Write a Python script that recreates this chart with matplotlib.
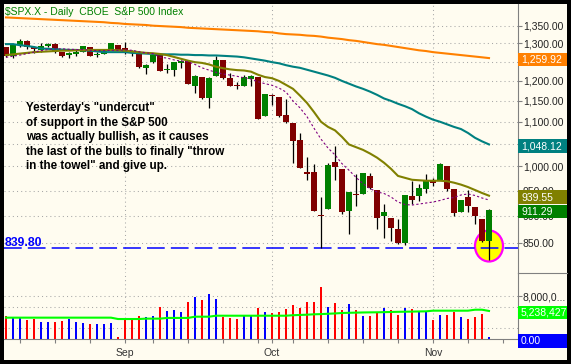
import numpy as np
import pandas as pd
import matplotlib
matplotlib.use('Agg')
import matplotlib.pyplot as plt
from matplotlib.patches import Rectangle, Ellipse
from matplotlib.transforms import IdentityTransform
from matplotlib.ticker import NullLocator

plt.rcParams['font.family'] = ['Liberation Sans', 'DejaVu Sans']

# S&P 500 daily, 7 Aug 2008 - 13 Nov 2008
opens = [1289.19, 1266.29, 1296.32, 1305.32, 1288.64, 1282.11, 1293.85, 1298.14, 1276.65, 1267.34,
         1271.07, 1277.59, 1290.47, 1267.03, 1271.29, 1283.79, 1296.49, 1287.83, 1276.61, 1271.80,
         1233.21, 1249.50, 1267.98, 1227.50, 1229.04, 1245.88, 1250.92, 1188.31, 1210.34, 1157.08,
         1213.11, 1255.37, 1207.61, 1188.79, 1188.23, 1204.47, 1209.07, 1113.78, 1164.17, 1160.64,
         1115.16, 1097.56, 1057.60, 988.91, 988.42, 902.31, 912.75, 1009.97, 994.60, 909.53,
         942.29, 943.51, 980.40, 951.67, 899.08, 895.22, 874.28, 848.92, 939.51, 939.38,
         953.11, 968.67, 971.31, 1001.84, 952.40, 907.44, 936.75, 917.15, 893.39, 853.13]
highs = [1289.19, 1297.85, 1313.15, 1308.79, 1294.03, 1300.11, 1302.05, 1300.22, 1276.65, 1276.01,
         1281.40, 1293.09, 1290.47, 1275.65, 1285.05, 1300.68, 1296.49, 1303.04, 1280.60, 1271.80,
         1244.94, 1274.42, 1268.66, 1243.90, 1249.98, 1255.09, 1250.92, 1214.84, 1210.34, 1211.14,
         1265.12, 1255.37, 1221.15, 1197.41, 1214.24, 1215.77, 1209.07, 1168.03, 1167.03, 1160.64,
         1153.82, 1097.56, 1072.91, 1021.06, 1005.25, 936.36, 1006.93, 1044.31, 994.60, 947.71,
         984.64, 985.40, 985.44, 951.67, 922.83, 896.30, 893.78, 940.51, 969.97, 963.23,
         984.38, 975.57, 1007.51, 1001.84, 952.40, 931.46, 951.95, 917.15, 893.39, 913.01]
lows = [1263.99, 1261.11, 1291.41, 1284.85, 1274.86, 1276.84, 1290.74, 1274.51, 1263.11, 1261.16,
        1265.22, 1277.59, 1264.87, 1263.21, 1270.03, 1283.79, 1282.74, 1272.20, 1265.59, 1232.83,
        1217.23, 1247.12, 1224.51, 1221.60, 1211.54, 1233.81, 1192.70, 1169.28, 1155.88, 1133.50,
        1213.11, 1205.61, 1187.06, 1179.79, 1188.23, 1187.54, 1106.39, 1113.78, 1140.77, 1111.43,
        1098.14, 1007.97, 996.23, 970.97, 909.19, 839.80, 912.75, 972.07, 903.99, 865.83,
        918.74, 943.51, 952.47, 875.81, 858.44, 852.85, 846.75, 845.27, 922.26, 928.50,
        944.59, 958.82, 971.31, 949.86, 899.73, 907.44, 907.47, 884.90, 850.48, 818.69]
closes = [1266.07, 1296.32, 1305.32, 1289.59, 1285.83, 1292.93, 1298.20, 1278.60, 1266.69, 1274.54,
          1277.72, 1292.20, 1266.84, 1271.51, 1281.66, 1300.68, 1282.83, 1277.58, 1274.98, 1236.83,
          1242.31, 1267.79, 1224.51, 1232.04, 1249.05, 1251.70, 1192.70, 1213.60, 1156.39, 1206.51,
          1255.08, 1207.09, 1188.22, 1185.87, 1209.18, 1213.27, 1106.39, 1166.36, 1161.06, 1114.28,
          1099.23, 1056.89, 996.23, 984.94, 909.92, 899.22, 1003.35, 998.01, 907.84, 946.43,
          940.55, 985.40, 955.05, 896.78, 908.11, 876.77, 848.92, 940.51, 930.09, 954.09,
          968.75, 966.30, 1005.75, 952.77, 904.88, 930.99, 919.21, 898.95, 852.30, 911.29]

# moving averages as drawn on the chart
ma_orange = [1374, 1373, 1372, 1371, 1370, 1369, 1368, 1367, 1366, 1365,
             1364, 1363, 1362, 1361, 1360, 1358, 1357, 1355, 1354, 1353,
             1352, 1350, 1349, 1348, 1347, 1346, 1344, 1343, 1342, 1341,
             1340, 1339, 1338, 1337, 1336, 1335, 1334, 1332, 1331, 1328,
             1326, 1325, 1324, 1322, 1321, 1319, 1316, 1314, 1312, 1309,
             1307, 1304, 1301, 1298, 1296, 1293, 1290, 1287, 1284, 1281,
             1279, 1276, 1274, 1272, 1270, 1268, 1266, 1264, 1262, 1259.92]
ma_teal = [1298, 1298, 1295, 1293, 1290, 1286, 1285, 1284, 1283, 1282,
           1282, 1281, 1280, 1278, 1276, 1276, 1276, 1276, 1274, 1273,
           1272, 1271, 1270, 1270, 1270, 1269, 1269, 1268, 1268, 1267,
           1267, 1266, 1265, 1264, 1262, 1259, 1256, 1253, 1249, 1246,
           1241, 1237, 1234, 1229, 1224, 1219, 1214, 1208, 1200, 1193,
           1186, 1180, 1173, 1165, 1156, 1150, 1143, 1137, 1130, 1120,
           1112, 1105, 1100, 1094, 1088, 1083, 1074, 1063, 1055, 1048.12]
ma_olive = [1268, 1270, 1272, 1274, 1276, 1277, 1278, 1279, 1280, 1280,
            1281, 1281, 1282, 1282, 1282, 1282, 1281, 1280, 1278, 1276,
            1274, 1273, 1271, 1268, 1263, 1258, 1253, 1249, 1247, 1243,
            1237, 1233, 1230, 1228, 1227, 1224, 1216, 1210, 1207, 1200,
            1190, 1180, 1163, 1145, 1123, 1100, 1088, 1080, 1065, 1048,
            1042, 1036, 1028, 1019, 1008, 995, 980, 976, 972, 971,
            970, 970, 970, 969, 966, 962, 957, 951, 945, 939.55]
ma_purple = [1262, 1265, 1268, 1272, 1276, 1280, 1283, 1285, 1285, 1284,
             1283, 1283, 1281, 1280, 1280, 1281, 1281, 1282, 1281, 1277,
             1274, 1272, 1262, 1260, 1255, 1252, 1250, 1243, 1234, 1228,
             1222, 1218, 1215, 1212, 1208, 1205, 1198, 1193, 1189, 1182,
             1172, 1150, 1133, 1112, 1085, 1060, 1040, 1025, 1006, 992,
             977, 964, 954, 947, 944, 937, 927, 922, 921, 923,
             925, 927, 930, 934, 936, 941, 943, 940, 935, 931]

# volume in millions, R = down day, B = up day
volume = [4.3, 4.0, 4.0, 3.57, 3.75, 3.2, 3.2, 3.2, 3.38, 3.75,
          3.2, 3.0, 2.83, 2.83, 2.83, 3.0, 0.43, 3.94, 3.94, 4.3,
          4.12, 4.3, 5.97, 5.23, 5.41, 5.05, 6.9, 7.82, 7.27, 8.37,
          7.45, 4.06, 3.94, 3.75, 4.3, 4.3, 5.79, 5.05, 4.86, 5.05,
          5.6, 6.34, 5.79, 6.9, 6.9, 9.72, 5.97, 6.71, 5.41, 6.53,
          5.41, 4.3, 4.3, 5.1, 5.79, 5.41, 4.49, 5.79, 5.6, 5.1,
          5.1, 3.57, 4.49, 4.49, 5.05, 4.12, 3.75, 4.12, 4.68, 0.37]
vol_dir = "RBBRRBBRRBBBRBBBRRRRBBRBBBRBRBBRRRBBRBRRRRRRRRBRRBRBRRBRRBRBBRBRRBRRRB"
vol_ma = [4.0, 4.0, 4.0, 4.0, 4.0, 4.0, 4.0, 4.0, 4.0, 4.0,
          4.0, 4.0, 4.0, 4.0, 4.0, 4.0, 3.75, 3.75, 3.75, 3.75,
          3.82, 3.82, 3.82, 3.95, 3.95, 3.95, 3.95, 4.18, 4.18, 4.18,
          4.36, 4.36, 4.36, 4.36, 4.36, 4.36, 4.36, 4.36, 4.36, 4.36,
          4.36, 4.45, 4.5, 4.55, 4.62, 4.66, 4.72, 4.78, 4.86, 4.9,
          4.93, 4.96, 4.98, 4.99, 5.02, 5.05, 5.08, 5.1, 5.12, 5.15,
          5.17, 5.29, 5.29, 5.29, 5.29, 5.29, 5.29, 5.47, 5.47, 5.24]

price_grid = [850, 900, 950, 1000, 1050, 1100, 1150, 1200, 1250, 1300, 1350]
price_labels = [850, 900, 950, 1000, 1100, 1150, 1200, 1300, 1350]   # the others sit under value boxes
support = 839.80
circle_price = 844

title = '$SPX.X - Daily  CBOE  S&P 500 Index'
note_lines = ['Yesterday\'s "undercut"',
              'of support in the S&P 500',
              'was actually bullish, as it causes',
              'the last of the bulls to finally "throw',
              'in the towel" and give up.']

CREAM = '#FFFCF0'
GRID = '#A8A8A8'
AXC = '#808080'

days = pd.bdate_range('2008-08-07', '2008-11-19')
days = days[days != pd.Timestamp('2008-09-01')]
x = np.arange(len(closes))

W, H = 571, 364
fig = plt.figure(figsize=(W / 100, H / 100), dpi=100, facecolor='black')


def px_box(l, t, r, b):
    return [l / W, 1 - b / H, (r - l) / W, (b - t) / H]


fig.add_artist(Rectangle((4 / W, 4 / H), 563 / W, 356 / H, transform=fig.transFigure,
                         facecolor=CREAM, edgecolor='none', zorder=-1))

ax = fig.add_axes(px_box(4, 4, 517.7, 273))
vax = fig.add_axes(px_box(4, 273, 517.7, 339.3))
for a in (ax, vax):
    a.patch.set_visible(False)
    for s in a.spines.values():
        s.set_visible(False)
    a.set_xlim((4 - 6) / 7, (517.7 - 6) / 7)

# price panel
ax.set_yscale('log')
ax.set_ylim(796.8, 1413.9)
ax.yaxis.set_minor_locator(NullLocator())
ax.yaxis.tick_right()
ax.set_yticks(price_labels)
ax.set_yticklabels([f'{v:,.2f}' for v in price_labels])
ax.tick_params(axis='y', length=3, width=0.8, color=AXC, pad=0.8, labelsize=7.5, labelcolor='#222222')
ax.set_xticks([])
ax.spines['right'].set_visible(True)
ax.spines['right'].set_color(AXC)

for v in price_grid:
    ax.axhline(v, color=GRID, lw=0.75, ls=(0, (1, 3)), zorder=1)

month_idx = [i for i in range(1, len(days)) if days[i].month != days[i - 1].month]
week_idx = [i for i in range(1, len(days)) if days[i].weekday() < days[i - 1].weekday()]
for i in month_idx:
    ax.axvline(i, color=GRID, lw=0.75, ls=(0, (1, 3)), zorder=1)
    vax.axvline(i, color=GRID, lw=0.75, ls=(0, (1, 3)), zorder=1)

# circle around the last low
cx, cy = ax.transData.transform((x[-1], circle_price))
ax.add_patch(Ellipse((cx, cy), 28, 31, transform=IdentityTransform(),
                     facecolor='#FFFF00', edgecolor='#FF00FF', lw=1.6, zorder=2.5))

ax.axhline(support, color='#0000FF', lw=1.1, ls=(0, (11.6, 4.0)), zorder=2.7)

o = np.array(opens)
c = np.array(closes)
ax.vlines(x, lows, highs, color='black', lw=0.9, zorder=3)
body_lo = np.minimum(o, c)
body_h = np.maximum(np.abs(c - o), body_lo * 0.0025)
body_col = ['#008000' if cc > oo else '#800000' for oo, cc in zip(o, c)]
ax.bar(x, body_h, bottom=body_lo, width=0.8, color=body_col, lw=0, zorder=3.5)

ax.plot(x, ma_orange, color='#FF8000', lw=1.5, zorder=4)
ax.plot(x, ma_teal, color='#008080', lw=1.5, zorder=4)
ax.plot(x, ma_olive, color='#808000', lw=1.5, zorder=4)
ax.plot(x, ma_purple, color='#800080', lw=0.8, ls=(0, (2, 2)), zorder=4)

# volume panel
vax.set_ylim(0, (339.3 - 273) / 5.41)
for v in [2, 6, 8]:
    vax.axhline(v, color=GRID, lw=0.75, ls=(0, (1, 3)), zorder=1)
vcol = ['#FF0000' if d == 'R' else '#0000FF' for d in vol_dir]
vax.bar(x, volume, width=0.4, color=vcol, lw=0, zorder=3)
vax.plot(x, vol_ma, color='#00FF00', lw=1.5, zorder=4)
vax.yaxis.tick_right()
vax.set_yticks([8])
vax.set_yticklabels(['8,000,0...'])
vax.tick_params(axis='y', length=3, width=0.8, color=AXC, pad=0.8, labelsize=7.5, labelcolor='#222222')
vax.set_xticks(month_idx)
vax.set_xticklabels([days[i].strftime('%b') for i in month_idx])
vax.set_xticks(week_idx, minor=True)
vax.tick_params(axis='x', which='both', length=3, width=0.8, color=AXC, pad=3,
                labelsize=7.5, labelcolor='#333333')
for s in ('right', 'bottom'):
    vax.spines[s].set_visible(True)
    vax.spines[s].set_color(AXC)

# overlay in pixel coordinates for labels
ov = fig.add_axes([0, 0, 1, 1])
ov.set_xlim(0, W)
ov.set_ylim(H, 0)
ov.set_axis_off()
ov.plot([517.7, 567], [273, 273], color=AXC, lw=0.8)


def ypx(a, v):
    return H - a.transData.transform((0, v))[1]


def value_box(a, v, text, color):
    y = ypx(a, v) + 1.5
    ov.add_patch(Rectangle((518.2, y - 6.8), 48.5, 13.6, facecolor=color, edgecolor='none'))
    ov.text(521, y + 0.3, text, color='white', fontsize=7.5, va='center', ha='left')


value_box(ax, ma_orange[-1], f'{ma_orange[-1]:,.2f}', '#FF8000')
value_box(ax, ma_teal[-1], f'{ma_teal[-1]:,.2f}', '#008080')
value_box(ax, ma_olive[-1], f'{ma_olive[-1]:,.2f}', '#808000')
value_box(ax, closes[-1], f'{closes[-1]:,.2f}', '#008000')
value_box(vax, vol_ma[-1], '5,238,427', '#00FF00')
value_box(vax, 0, '0.00', '#0000FF')

ov.text(5, 15, title, color='#008000', fontsize=7.5, va='baseline')
for k, line in enumerate(note_lines):
    ov.text(26.5, 111 + 14.6 * k, line, fontsize=8.4, fontweight='bold', color='black', va='baseline')
ov.text(4.7, ypx(ax, support) - 2.4, f'{support:.2f}', fontsize=8.8, fontweight='bold',
        color='#0000FF', va='baseline')

fig.savefig('out.png', dpi=100, facecolor='black')
